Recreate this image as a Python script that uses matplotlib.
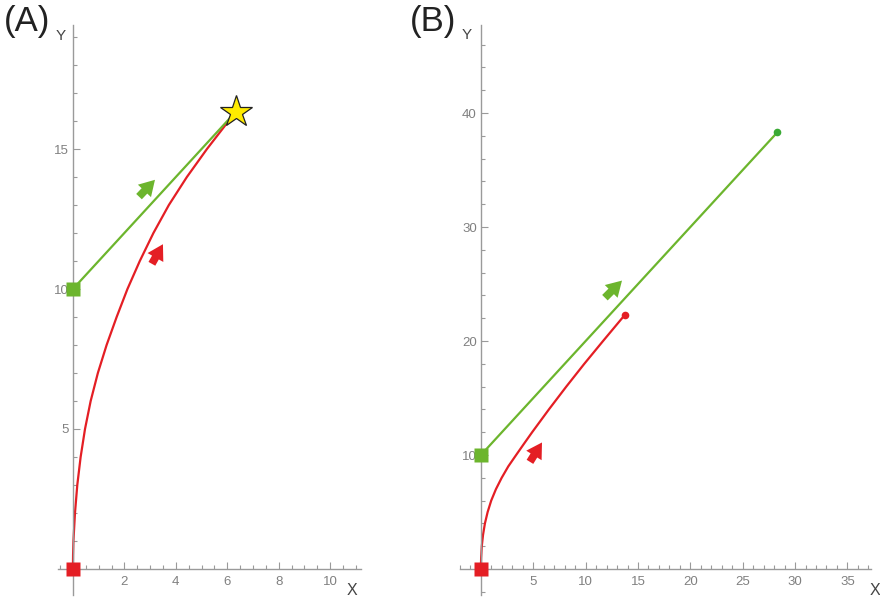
import matplotlib
matplotlib.use("Agg")
import matplotlib.pyplot as plt
from matplotlib.patches import FancyArrowPatch
from matplotlib.ticker import MultipleLocator, FixedLocator

plt.rcParams['font.family'] = ['Liberation Sans', 'DejaVu Sans']

# ---------------- data ----------------
# Panel A
red_a_x = [0, 0.006, 0.02, 0.08, 0.17, 0.30, 0.47, 0.69, 0.97, 1.31, 1.70, 2.12, 2.60, 3.13, 3.73, 4.43, 5.21, 6.33]
red_a_y = [0, 0.5, 1, 2, 3, 4, 5, 6, 7, 8, 9, 10, 11, 12, 13, 14, 15, 16.33]
green_a_x = [0, 6.33]
green_a_y = [10, 16.33]
star_a = (6.33, 16.33)
arrows_a = {"green": ((2.57, 13.3), (3.19, 13.9)), "red": ((3.07, 10.9), (3.5, 11.6))}
xticks_a = [2, 4, 6, 8, 10]
yticks_a = [5, 10, 15]

# Panel B
red_b_x = [0, 0.005, 0.02, 0.08, 0.2, 0.38, 0.64, 0.98, 1.43, 1.98, 2.61, 3.36, 4.12, 4.89, 6.49, 8.15, 9.87, 11.66, 13.75]
red_b_y = [0, 0.5, 1, 2, 3, 4, 5, 6, 7, 8, 9, 10, 11, 12, 14, 16, 18, 20, 22.3]
green_b_x = [0, 28.3]
green_b_y = [10, 38.3]
arrows_b = {"green": ((11.84, 23.8), (13.47, 25.3)), "red": ((4.68, 9.4), (5.83, 11.1))}
xticks_b = [5, 10, 15, 20, 25, 30, 35]
yticks_b = [10, 20, 30, 40]

RED = '#e41e24'
GREEN = '#6cb52d'
GREEN_DOT = '#3aaa35'
AXC = '#9a9a9a'
TXC = '#808080'
LBC = '#444444'

fig = plt.figure(figsize=(8.8, 5.99), dpi=100)


def style_axes(ax, xlim, ylim, xticks, yticks, xminor, yminor):
    ax.set_xlim(*xlim)
    ax.set_ylim(*ylim)
    for s in ['top', 'right']:
        ax.spines[s].set_visible(False)
    ax.spines['left'].set_position(('data', 0))
    ax.spines['bottom'].set_position(('data', 0))
    for s in ['left', 'bottom']:
        ax.spines[s].set_color(AXC)
        ax.spines[s].set_linewidth(1.0)
    ax.xaxis.set_major_locator(FixedLocator(xticks))
    ax.yaxis.set_major_locator(FixedLocator(yticks))
    ax.xaxis.set_minor_locator(MultipleLocator(xminor))
    ax.yaxis.set_minor_locator(MultipleLocator(yminor))
    ax.tick_params(which='both', direction='in', color=AXC, width=0.8)
    ax.tick_params(which='major', length=5)
    ax.tick_params(which='minor', length=3)
    ax.tick_params(axis='x', which='major', labelsize=9.5, labelcolor=TXC, pad=5)
    ax.tick_params(axis='y', which='major', labelsize=9.5, labelcolor=TXC, pad=3)
    ax.patch.set_visible(False)


def add_arrow(ax, tail, tip, color):
    p = FancyArrowPatch(posA=tail, posB=tip,
                        arrowstyle='simple,head_length=0.55,head_width=0.65,tail_width=0.28',
                        mutation_scale=20, color=color, lw=0, zorder=4,
                        shrinkA=0, shrinkB=0)
    ax.add_patch(p)


# ---------- Panel A ----------
axA = fig.add_axes([58 / 880, 4 / 599, 303 / 880, 570 / 599])
style_axes(axA, (-0.58, 11.2), (-0.93, 19.43), xticks_a, yticks_a, 0.5, 1)
axA.plot(red_a_x, red_a_y, color=RED, lw=1.6, zorder=2)
axA.plot(green_a_x, green_a_y, color=GREEN, lw=1.6, zorder=2)
add_arrow(axA, *arrows_a["green"], GREEN)
add_arrow(axA, *arrows_a["red"], RED)
axA.plot([0], [0], marker='s', ms=9.5, color=RED, mec='none', zorder=5, clip_on=False)
axA.plot([green_a_x[0]], [green_a_y[0]], marker='s', ms=9.5, color=GREEN, mec='none', zorder=5, clip_on=False)
axA.plot([star_a[0]], [star_a[1]], marker='*', ms=24, color='#ffeb00', mec='#222222', mew=0.9, zorder=6)
axA.text(10.83, -0.77, 'X', ha='center', va='center', fontsize=11.5, color=LBC)
axA.text(-0.49, 19.04, 'Y', ha='center', va='center', fontsize=11, color=LBC)
fig.text(27 / 880, 1 - 21 / 599, '(A)', ha='center', va='center', fontsize=25, color='#222222')

# ---------- Panel B ----------
axB = fig.add_axes([460 / 880, 4 / 599, 411 / 880, 570 / 599])
style_axes(axB, (-2.0, 37.25), (-2.28, 47.72), xticks_b, yticks_b, 1, 2)
axB.plot(red_b_x, red_b_y, color=RED, lw=1.6, zorder=2)
axB.plot(green_b_x, green_b_y, color=GREEN, lw=1.6, zorder=2)
add_arrow(axB, *arrows_b["green"], GREEN)
add_arrow(axB, *arrows_b["red"], RED)
axB.plot([0], [0], marker='s', ms=9.5, color=RED, mec='none', zorder=5, clip_on=False)
axB.plot([green_b_x[0]], [green_b_y[0]], marker='s', ms=9.5, color=GREEN, mec='none', zorder=5, clip_on=False)
axB.plot([green_b_x[-1]], [green_b_y[-1]], marker='o', ms=5.5, color=GREEN_DOT, mec='none', zorder=5)
axB.plot([red_b_x[-1]], [red_b_y[-1]], marker='o', ms=5.5, color=RED, mec='none', zorder=5)
axB.text(37.63, -1.9, 'X', ha='center', va='center', fontsize=11.5, color=LBC)
axB.text(-1.38, 46.8, 'Y', ha='center', va='center', fontsize=11, color=LBC)
fig.text(433 / 880, 1 - 21 / 599, '(B)', ha='center', va='center', fontsize=25, color='#222222')

fig.savefig('out.png', dpi=100)
